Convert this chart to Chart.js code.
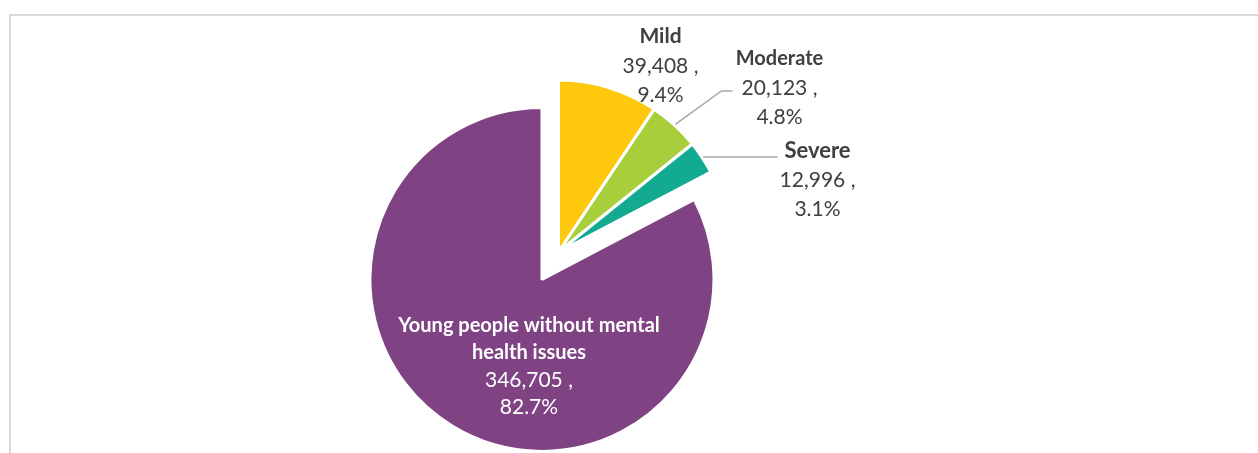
<!DOCTYPE html>
<html>
<head>
<meta charset="utf-8">
<script src="https://cdn.jsdelivr.net/npm/chart.js@4.4.1/dist/chart.umd.min.js"></script>
<style>
  html, body { margin: 0; padding: 0; background: #fff; }
  #wrap { position: relative; width: 1258px; height: 453px; overflow: hidden; }
  #frame {
    position: absolute; left: 9px; top: 14px; right: -10px; bottom: -10px;
    border-top: 2px solid #d9d9d9; border-left: 2px solid #d9d9d9;
  }
  #pie { position: absolute; left: 0; top: 0; }
</style>
</head>
<body>
<div id="wrap">
  <div id="frame"></div>
  <canvas id="pie" width="1258" height="453"></canvas>
</div>
<script>
// Data
const categories = ['Mild', 'Moderate', 'Severe', ['Young people without mental', 'health issues']];
const counts = [39408, 20123, 12996, 346705];
const shares = [9.4, 4.8, 3.1, 82.7];
const colours = ['#FEC90D', '#A8CE3B', '#12AB92', '#7F4282'];

// how far each slice is pulled out (px), Excel style explosion
const explode = [0, 0, 0, 32];

// label block placement relative to its slice centre, plus leader line points
const labelStyle = [
  { dx: 102, dy: -186, nameSize: 21, gap: 29.3, colour: '#404040' },
  { dx: 221, dy: -164, nameSize: 20, gap: 29.3, colour: '#404040', leader: [-58, 3, -47, 3] },
  { dx: 259, dy: -72, nameSize: 22, gap: 29.3, colour: '#404040', leader: [-40, -23, -40, -23] },
  { dx: -13, dy: 87, nameSize: 20, gap: 27.3, colour: '#ffffff' }
];

const FONT = 'Lato, "Open Sans", sans-serif';

const explodePlugin = {
  id: 'explode',
  afterDatasetsUpdate(chart) {
    const arcs = chart.getDatasetMeta(0).data;
    arcs.forEach((arc, i) => {
      const d = explode[i];
      if (!d) return;
      const mid = (arc.startAngle + arc.endAngle) / 2;
      arc.x += Math.cos(mid) * d;
      arc.y += Math.sin(mid) * d;
    });
  }
};

const labelPlugin = {
  id: 'sliceLabels',
  afterDatasetsDraw(chart) {
    const ctx = chart.ctx;
    const arcs = chart.getDatasetMeta(0).data;
    arcs.forEach((arc, i) => {
      const s = labelStyle[i];
      const cx = arc.x + s.dx;
      const cy = arc.y + s.dy;

      // leader line from the slice edge to the label
      if (s.leader) {
        const mid = (arc.startAngle + arc.endAngle) / 2;
        const r = arc.outerRadius + 1;
        ctx.save();
        ctx.strokeStyle = '#a6a6a6';
        ctx.lineWidth = 1.5;
        ctx.beginPath();
        ctx.moveTo(arc.x + Math.cos(mid) * r, arc.y + Math.sin(mid) * r);
        ctx.lineTo(cx + s.leader[0], cy + s.leader[1]);
        ctx.lineTo(cx + s.leader[2], cy + s.leader[3]);
        ctx.stroke();
        ctx.restore();
      }

      const names = [].concat(categories[i]);
      const lines = names.map(t => ({ text: t, font: `bold ${s.nameSize}px ${FONT}` }));
      lines.push({ text: counts[i].toLocaleString('en-US') + ' ,', font: `21px ${FONT}` });
      lines.push({ text: shares[i].toFixed(1) + '%', font: `21px ${FONT}` });

      ctx.save();
      ctx.fillStyle = s.colour;
      ctx.textAlign = 'center';
      ctx.textBaseline = 'middle';
      const top = cy - (lines.length - 1) * s.gap / 2;
      lines.forEach((l, k) => {
        ctx.font = l.font;
        ctx.fillText(l.text, cx, top + k * s.gap);
      });
      ctx.restore();
    });
  }
};

function drawChart() {
  new Chart(document.getElementById('pie'), {
    type: 'pie',
    data: {
      labels: categories,
      datasets: [{
        data: counts,
        backgroundColor: colours,
        borderColor: '#ffffff',
        borderWidth: 3
      }]
    },
    options: {
      responsive: false,
      animation: false,
      radius: 172,
      layout: { padding: { left: 0, right: 141, top: 51, bottom: 0 } },
      plugins: {
        legend: { display: false },
        tooltip: {
          callbacks: {
            label: function (item) {
              return `${item.raw.toLocaleString('en-US')} (${shares[item.dataIndex]}%)`;
            }
          }
        }
      }
    },
    plugins: [explodePlugin, labelPlugin]
  });
}

Promise.all([
  document.fonts.load(`bold 21px ${FONT}`),
  document.fonts.load(`21px ${FONT}`)
]).then(drawChart, drawChart);
</script>
</body>
</html>
